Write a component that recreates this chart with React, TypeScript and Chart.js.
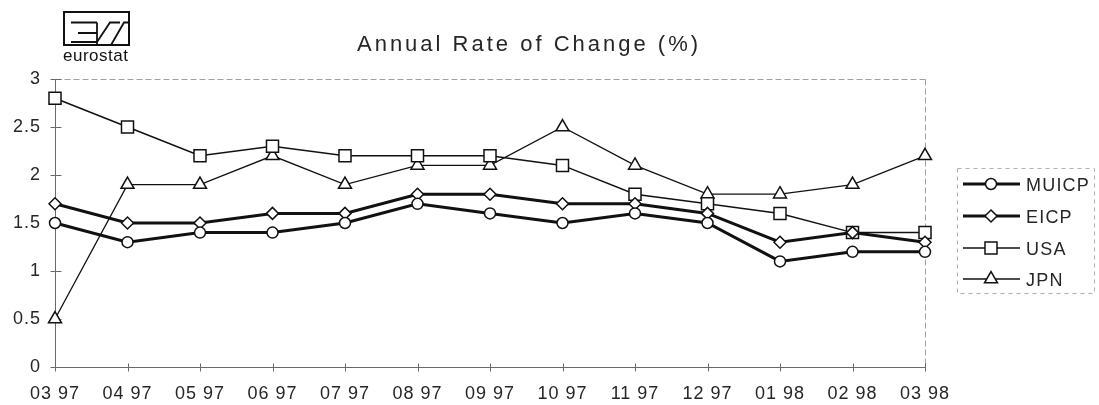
import React, { useEffect, useRef } from 'react';
import { Chart, registerables } from 'chart.js';

Chart.register(...registerables);

const categories = ['03 97', '04 97', '05 97', '06 97', '07 97', '08 97', '09 97', '10 97', '11 97', '12 97', '01 98', '02 98', '03 98'];
const muicp = [1.5, 1.3, 1.4, 1.4, 1.5, 1.7, 1.6, 1.5, 1.6, 1.5, 1.1, 1.2, 1.2];
const eicp = [1.7, 1.5, 1.5, 1.6, 1.6, 1.8, 1.8, 1.7, 1.7, 1.6, 1.3, 1.4, 1.3];
const usa = [2.8, 2.5, 2.2, 2.3, 2.2, 2.2, 2.2, 2.1, 1.8, 1.7, 1.6, 1.4, 1.4];
const jpn = [0.5, 1.9, 1.9, 2.2, 1.9, 2.1, 2.1, 2.5, 2.1, 1.8, 1.8, 1.9, 2.2];
const seriesNames = ['MUICP', 'EICP', 'USA', 'JPN'];
const yTicks = [0, 0.5, 1, 1.5, 2, 2.5, 3];
const chartTitle = 'Annual Rate of Change (%)';
const logoText = 'eurostat';

const FONT = '"Liberation Sans", Arial, sans-serif';
const INK = '#111';
const TEXT = '#262626';

type Marker = 'circle' | 'rectRot' | 'rect' | 'triangle';
const markers: Marker[] = ['circle', 'rectRot', 'rect', 'triangle'];
const radii = [5.5, 6, 8.5, 7.5];
const lineWidths = [3, 3, 1.5, 1.3];

function drawMarker(ctx: CanvasRenderingContext2D, style: Marker, x: number, y: number, r: number) {
  ctx.beginPath();
  if (style === 'circle') {
    ctx.arc(x, y, r, 0, Math.PI * 2);
  } else if (style === 'rectRot') {
    ctx.moveTo(x, y - r);
    ctx.lineTo(x + r, y);
    ctx.lineTo(x, y + r);
    ctx.lineTo(x - r, y);
    ctx.closePath();
  } else if (style === 'rect') {
    const s = Math.SQRT1_2 * r;
    ctx.rect(x - s, y - s, 2 * s, 2 * s);
  } else {
    const w = Math.sin((2 * Math.PI) / 3) * r;
    ctx.moveTo(x, y - r);
    ctx.lineTo(x + w, y + r / 2);
    ctx.lineTo(x - w, y + r / 2);
    ctx.closePath();
  }
  ctx.fillStyle = '#fff';
  ctx.fill();
  ctx.lineWidth = 1.5;
  ctx.strokeStyle = INK;
  ctx.stroke();
}

const decorPlugin = {
  id: 'decor',
  beforeDraw(chart: any) {
    chart.ctx.letterSpacing = '1px';
  },
  beforeDatasetsDraw(chart: any) {
    const { ctx, chartArea: a, scales } = chart;
    const x = scales.x;
    const y = scales.y;
    const top = Math.round(a.top) + 0.5;
    const bottom = Math.round(a.bottom) + 0.5;
    const left = Math.round(a.left) + 0.5;
    const right = Math.round(a.right) + 0.5;
    ctx.save();
    ctx.lineWidth = 1;
    ctx.strokeStyle = '#a0a0a0';
    ctx.setLineDash([6, 3]);
    ctx.beginPath();
    ctx.moveTo(left, top);
    ctx.lineTo(right, top);
    ctx.moveTo(right, top);
    ctx.lineTo(right, bottom);
    ctx.stroke();
    ctx.setLineDash([]);
    ctx.strokeStyle = '#6a6a6a';
    ctx.beginPath();
    ctx.moveTo(left, top);
    ctx.lineTo(left, bottom);
    ctx.moveTo(left, bottom);
    ctx.lineTo(right, bottom);
    yTicks.forEach((v) => {
      const py = Math.round(y.getPixelForValue(v)) + 0.5;
      ctx.moveTo(left - 5, py);
      ctx.lineTo(left + 6, py);
    });
    categories.forEach((_, i) => {
      const px = Math.round(x.getPixelForValue(i)) + 0.5;
      ctx.moveTo(px, bottom - 4);
      ctx.lineTo(px, bottom + 4);
    });
    ctx.stroke();
    ctx.restore();
  },
  afterDraw(chart: any) {
    const ctx: CanvasRenderingContext2D = chart.ctx;
    ctx.save();
    // title
    ctx.fillStyle = TEXT;
    ctx.font = `22px ${FONT}`;
    (ctx as any).letterSpacing = '3px';
    ctx.textAlign = 'center';
    ctx.textBaseline = 'alphabetic';
    ctx.fillText(chartTitle, 529, 51);

    // legend
    ctx.strokeStyle = '#b0b0b0';
    ctx.lineWidth = 1;
    ctx.setLineDash([4, 4]);
    ctx.strokeRect(957.5, 168.5, 137, 125);
    ctx.setLineDash([]);
    const rows = [184, 216, 248, 279];
    ctx.font = `18px ${FONT}`;
    (ctx as any).letterSpacing = '1.2px';
    ctx.textAlign = 'left';
    seriesNames.forEach((name, i) => {
      const ry = rows[i];
      ctx.beginPath();
      ctx.strokeStyle = INK;
      ctx.lineWidth = lineWidths[i];
      ctx.moveTo(963, ry);
      ctx.lineTo(1020, ry);
      ctx.stroke();
      drawMarker(ctx, markers[i], 991, ry, radii[i]);
      ctx.fillStyle = TEXT;
      ctx.fillText(name, 1026, ry + 7);
    });

    // logo
    ctx.strokeStyle = INK;
    ctx.lineWidth = 2;
    ctx.strokeRect(64, 12, 65, 33);
    ctx.lineWidth = 1.8;
    ctx.beginPath();
    ctx.moveTo(71, 22.5);
    ctx.lineTo(97, 22.5);
    ctx.moveTo(78, 33);
    ctx.lineTo(97, 33);
    ctx.moveTo(71, 42);
    ctx.lineTo(97, 42);
    ctx.moveTo(97, 22.5);
    ctx.lineTo(97, 45);
    ctx.moveTo(97, 42);
    ctx.lineTo(110, 22.5);
    ctx.lineTo(120, 22.5);
    ctx.moveTo(111, 45);
    ctx.lineTo(124, 22.5);
    ctx.lineTo(129, 22.5);
    ctx.stroke();
    ctx.fillStyle = INK;
    ctx.font = `17px ${FONT}`;
    (ctx as any).letterSpacing = '0.5px';
    ctx.textAlign = 'left';
    ctx.fillText(logoText, 63, 61);
    ctx.restore();
  },
};

export default function App() {
  const ref = useRef<HTMLCanvasElement | null>(null);

  useEffect(() => {
    if (!ref.current) return;
    const mk = (label: string, data: number[], i: number) => ({
      label,
      data,
      borderColor: INK,
      borderWidth: lineWidths[i],
      pointStyle: markers[i],
      pointRadius: radii[i],
      pointHoverRadius: radii[i],
      pointBackgroundColor: '#fff',
      pointBorderColor: INK,
      pointBorderWidth: 1.5,
      tension: 0,
      fill: false,
    });
    const chart = new Chart(ref.current, {
      type: 'line',
      data: {
        labels: categories,
        datasets: [
          mk(seriesNames[0], muicp, 0),
          mk(seriesNames[1], eicp, 1),
          mk(seriesNames[2], usa, 2),
          mk(seriesNames[3], jpn, 3),
        ],
      },
      options: {
        responsive: false,
        animation: false,
        layout: { padding: { left: 0, top: 79, right: 174, bottom: 0 } },
        plugins: {
          legend: { display: false },
          title: { display: false },
          tooltip: { enabled: false },
        },
        scales: {
          x: {
            type: 'category',
            offset: false,
            grid: { display: false, drawTicks: false },
            border: { display: false },
            ticks: {
              font: { family: FONT, size: 18 },
              color: TEXT,
              padding: 16,
              maxRotation: 0,
              autoSkip: false,
            },
            afterFit: (s: any) => {
              s.height = 38;
            },
          },
          y: {
            min: 0,
            max: 3,
            grid: { display: false, drawTicks: false },
            border: { display: false },
            ticks: {
              stepSize: 0.5,
              font: { family: FONT, size: 18 },
              color: TEXT,
              padding: 14,
              callback: (v: any) => String(Number(v)),
            },
            afterFit: (s: any) => {
              s.width = 55;
            },
          },
        },
      } as any,
      plugins: [decorPlugin as any],
    });
    return () => chart.destroy();
  }, []);

  return (
    <div style={{ position: 'fixed', left: 0, top: 0, width: 1099, height: 405, background: '#fff' }}>
      <canvas ref={ref} width={1099} height={405} style={{ width: 1099, height: 405, display: 'block' }} />
    </div>
  );
}
